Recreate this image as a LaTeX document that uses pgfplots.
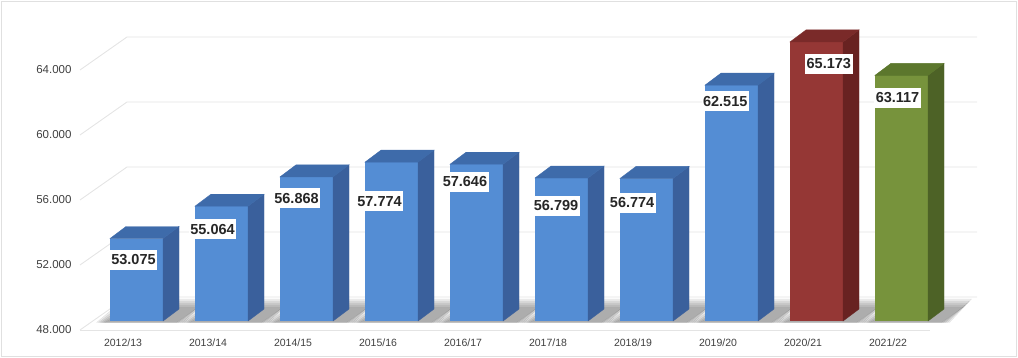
\documentclass[border=0pt]{standalone}
\usepackage{pgfplots}
\pgfplotsset{compat=1.18}
\usepackage{pgfplotstable}
\usepackage{fontspec}
\setmainfont{Liberation Sans}
\pgfkeys{/pgf/number format/assume math mode=true}
\definecolor{bluef}{HTML}{548DD4}
\definecolor{blues}{HTML}{3A609C}
\definecolor{bluet}{HTML}{3E6BAA}
\definecolor{redf}{HTML}{953735}
\definecolor{reds}{HTML}{682221}
\definecolor{redt}{HTML}{7A2A29}
\definecolor{greenf}{HTML}{77933C}
\definecolor{greens}{HTML}{4D6226}
\definecolor{greent}{HTML}{5C772D}
\definecolor{gridc}{HTML}{E4E4E4}
\definecolor{txt}{HTML}{404040}
\def\bw{26.5pt}
\def\dx{16pt}
\def\dy{12pt}
\newcommand\declbar[3]{%
 \pgfdeclareplotmark{#1}{%
   \fill[#2] (\bw,0pt) -- ++(\dx,\dy) -- ++(0pt,-\hh pt) -- ++(-\dx,-\dy) -- cycle;
   \fill[#3] (-\bw,0pt) -- ++(\dx,\dy) -- ++(2*\bw,0pt) -- ++(-\dx,-\dy) -- cycle;
 }}
\declbar{barblue}{blues}{bluet}
\declbar{barred}{reds}{redt}
\declbar{bargreen}{greens}{greent}
\pgfdeclareplotmark{shadow}{%
  \foreach \e in {0,2,4,6,8}{%
    \fill[black,opacity=0.075] (-40pt+\e pt,-1.5pt-\hh pt) -- (48pt-\e pt,-1.5pt-\hh pt) -- (70pt-\e pt,22pt-\e pt-\hh pt) -- (-12pt+\e pt,22pt-\e pt-\hh pt) -- cycle;}
}
\pgfplotstableread{
x v lx ly
0 53.075 -3 -21.5
1 55.064 -9 -23
2 56.868 -10 -21.6
3 57.774 -12 -39
4 57.646 -11.6 -17.7
5 56.799 -5.5 -28
6 56.774 -14.4 -24.6
7 62.515 -6.3 -16
}\datablue
\pgfplotstableread{
x v lx ly
8 65.173 12.3 -22
}\datared
\pgfplotstableread{
x v lx ly
9 63.117 -4 -22.6
}\datagreen
\begin{document}
\begin{tikzpicture}[font=\fontsize{10.5}{12}\selectfont]
\useasboundingbox (-93pt,-37pt) rectangle (925pt,321pt);
\draw[black!12, line width=0.8pt] (-91.5pt,-35.5pt) rectangle (923.5pt,319.5pt);
\begin{axis}[
  at={(0pt,0pt)}, anchor=south west,
  x=85pt, y=16.25pt,
  xmin=-0.512, xmax=9.488, ymin=48, ymax=67.5,
  clip mode=individual,
  axis line style={draw=none}, major tick length=0pt,
  xtick={0,...,9},
  xticklabels={2012/13,2013/14,2014/15,2015/16,2016/17,2017/18,2018/19,2019/20,2020/21,2021/22},
  ytick={48,52,56,60,64},
  yticklabel style={/pgf/number format/fixed, /pgf/number format/fixed zerofill, /pgf/number format/precision=3, xshift=-18pt, yshift=-9pt, text=txt, font=\fontsize{11.5}{13}\selectfont},
  xticklabel style={xshift=-13.5pt, yshift=-14.5pt, text=txt},
  shadowmarks/.style={scatter, only marks, mark=shadow, point meta=explicit,
     visualization depends on={(\thisrow{v}-48)*16.25\as\hh}},
  barmarks/.style={scatter, only marks, mark=#1, point meta=explicit,
     visualization depends on={(\thisrow{v}-48)*16.25\as\hh},
     visualization depends on={\thisrow{lx}\as\mylx},
     visualization depends on={\thisrow{ly}\as\myly},
     nodes near coords={\pgfmathprintnumber[fixed,fixed zerofill,precision=3]{\pgfplotspointmeta}},
     every node near coord/.append style={anchor=center, xshift=\mylx pt, yshift=\myly pt,
        fill=white, text=black!85, font=\fontsize{14.5}{16}\selectfont\bfseries,
        inner xsep=1.5pt, inner ysep=4.5pt, text height=10.4pt, text depth=0.6pt}},
  frontbar/.style={ybar, bar width=53pt, bar shift=0pt, draw=none, fill=#1},
]
\pgfplotsinvokeforeach{48,52,56,60,64}{
  \draw[gridc, line width=0.9pt] ([shift={(-13pt,-9pt)}]axis cs:-0.512,#1) -- ([shift={(34pt,24pt)}]axis cs:-0.512,#1) -- ([shift={(34pt,24pt)}]axis cs:9.488,#1);
}
\draw[gridc, line width=0.9pt] ([shift={(-13pt,-9pt)}]axis cs:-0.512,48) -- ([shift={(-13pt,-9pt)}]axis cs:9.488,48);
\addplot[shadowmarks] table[x=x,y=v,meta=v]{\datablue};
\addplot[shadowmarks] table[x=x,y=v,meta=v]{\datared};
\addplot[shadowmarks] table[x=x,y=v,meta=v]{\datagreen};
\addplot[frontbar=bluef] table[x=x,y=v]{\datablue};
\addplot[frontbar=redf] table[x=x,y=v]{\datared};
\addplot[frontbar=greenf] table[x=x,y=v]{\datagreen};
\addplot[barmarks=barblue] table[x=x,y=v,meta=v]{\datablue};
\addplot[barmarks=barred] table[x=x,y=v,meta=v]{\datared};
\addplot[barmarks=bargreen] table[x=x,y=v,meta=v]{\datagreen};
\end{axis}
\end{tikzpicture}
\end{document}
